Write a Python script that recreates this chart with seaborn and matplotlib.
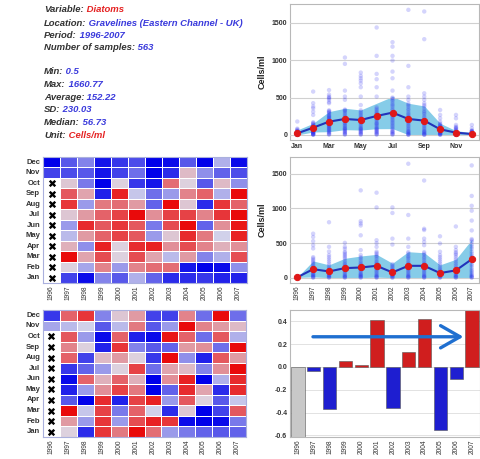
import numpy as np
import pandas as pd
import seaborn as sns
import matplotlib.pyplot as plt
from matplotlib.colors import LinearSegmentedColormap

# ---- data -------------------------------------------------------------
INFO_LABELS = ['Variable:', 'Location:', 'Period:', 'Number of samples:',
               'Min:', 'Max:', 'Average:', 'SD:', 'Median:', 'Unit:']
INFO_VALUES = ['Diatoms', 'Gravelines (Eastern Channel - UK)', '1996-2007', '563',
               '0.5', '1660.77', '152.22', '230.03', '56.73', 'Cells/ml']
INFO_COLORS = ['red', 'blue', 'blue', 'blue', 'blue', 'blue', 'blue', 'blue', 'blue', 'red']

MONTHS = ['Jan', 'Feb', 'Mar', 'Apr', 'May', 'Jun', 'Jul', 'Aug', 'Sep', 'Oct', 'Nov', 'Dec']
YEARS = list(range(1996, 2008))

# monthly samples (cells/ml)
month_pts = [
    [180, 85, 75, 65, 55, 50, 45, 40, 35, 30, 28, 25, 22, 20, 18, 15, 12, 10, 8, 6, 5, 4, 3, 2, 1, 1],
    [580, 425, 380, 357, 312, 268, 170, 160, 150, 140, 130, 120, 110, 100, 95, 90, 80, 70, 65, 60, 50,
     45, 40, 35, 30, 25, 20, 15, 10, 8, 5, 3],
    [600, 540, 513, 500, 490, 470, 440, 424, 330, 320, 310, 300, 290, 270, 260, 250, 240, 230, 220, 210,
     200, 190, 180, 170, 160, 150, 140, 130, 120, 110, 100, 90, 80, 70, 60, 50, 40, 30, 20, 10, 5],
    [1035, 950, 593, 513, 470, 340, 330, 320, 300, 280, 260, 240, 220, 200, 190, 180, 160, 150, 130, 120,
     100, 90, 80, 70, 60, 50, 40, 30, 20, 10, 5],
    [834, 790, 758, 727, 690, 638, 513, 400, 330, 310, 290, 270, 250, 230, 220, 200, 180, 160, 140, 120,
     100, 90, 80, 70, 60, 50, 40, 30, 20, 10, 5],
    [1436, 1057, 816, 745, 638, 513, 370, 350, 330, 310, 290, 280, 260, 240, 220, 200, 180, 160, 150, 140,
     120, 100, 90, 80, 70, 60, 50, 40, 30, 20, 10, 5],
    [1240, 1180, 1057, 995, 847, 758, 593, 500, 490, 470, 450, 420, 400, 380, 350, 330, 300, 280, 260, 240,
     220, 200, 180, 160, 140, 120, 100, 80, 60, 50, 40, 30, 20, 10, 5],
    [1672, 923, 638, 513, 470, 420, 400, 380, 350, 330, 300, 280, 260, 240, 220, 200, 180, 160, 140, 120,
     100, 80, 60, 50, 40, 30, 20, 10, 5, 2],
    [1650, 1280, 557, 513, 470, 424, 400, 380, 350, 320, 300, 280, 250, 230, 200, 180, 160, 140, 120, 100,
     80, 60, 50, 40, 30, 20, 10, 5, 2],
    [334, 268, 223, 178, 150, 140, 130, 120, 110, 100, 90, 80, 70, 60, 50, 40, 30, 25, 20, 15, 10, 5, 2],
    [268, 223, 134, 110, 100, 90, 80, 70, 60, 50, 40, 35, 30, 25, 20, 15, 10, 5, 2, 1],
    [134, 89, 60, 55, 50, 45, 40, 35, 30, 25, 20, 15, 10, 8, 5, 3, 2, 1],
]
month_mean = [22, 98, 178, 214, 200, 254, 299, 214, 192, 76, 31, 13]
month_lo = [0, 40, 44, 71, 66, 84, 85, 4, 0, 0, 4, 0]
month_hi = [67, 156, 312, 357, 334, 424, 513, 424, 388, 156, 58, 31]

# yearly samples
year_pts = [
    [15, 10, 8, 5, 3, 2],
    [637, 590, 530, 472, 425, 300, 280, 260, 240, 220, 200, 180, 160, 140, 120, 100, 80, 60, 50, 40, 30, 20, 10, 5],
    [802, 448, 380, 330, 300, 270, 240, 210, 180, 150, 130, 110, 90, 70, 50, 40, 30, 20, 10, 5],
    [505, 448, 420, 378, 360, 340, 320, 300, 280, 250, 220, 200, 180, 160, 140, 120, 100, 80, 60, 40, 30, 20, 10, 5],
    [1260, 817, 785, 755, 614, 401, 330, 300, 280, 250, 220, 200, 180, 160, 140, 120, 100, 80, 60, 50, 40, 30,
     20, 10, 5],
    [1227, 1015, 543, 500, 448, 380, 360, 340, 320, 300, 270, 240, 220, 200, 180, 160, 140, 120, 100, 80, 60,
     40, 30, 20, 10, 5],
    [1015, 935, 566, 481, 200, 180, 160, 140, 120, 100, 80, 60, 50, 40, 30, 20, 10, 5],
    [1643, 906, 566, 448, 370, 350, 320, 300, 280, 250, 220, 200, 180, 160, 140, 120, 100, 80, 60, 40, 30, 20,
     10, 5],
    [1402, 708, 690, 566, 520, 472, 370, 350, 330, 300, 280, 250, 220, 200, 180, 160, 140, 120, 100, 80, 60, 40,
     30, 20, 10, 5],
    [600, 496, 378, 330, 300, 270, 240, 210, 180, 150, 130, 110, 90, 70, 50, 40, 30, 20, 10, 5],
    [741, 448, 401, 370, 350, 330, 300, 270, 240, 210, 180, 150, 120, 100, 80, 60, 40, 30, 20, 10, 5],
    [1619, 1180, 1038, 968, 826, 684, 560, 543, 520, 480, 450, 420, 380, 350, 320, 300, 270, 240, 200, 180, 150,
     120, 100, 80, 60, 40, 30, 20, 10, 5],
]
year_mean = [10, 127, 94, 142, 151, 175, 80, 175, 175, 71, 109, 269]
year_lo = [8, 15, 5, 5, 5, 12, 5, 5, 5, 5, 5, 5]
year_hi = [12, 245, 189, 283, 316, 340, 212, 378, 363, 189, 269, 552]

# heatmap anomalies, rows Dec (top) -> Jan (bottom), columns 1996..2007
nan = np.nan
heat1 = [
    [-1.0, -0.6, -0.4, -0.9, -0.75, -0.65, -1.0, -0.95, -0.6, -1.0, -0.2, -0.95],
    [-0.7, -0.65, -0.6, -0.9, -0.7, -0.5, -1.0, -0.8, 0.15, -0.35, -0.55, -0.65],
    [nan, 0.1, -0.45, -1.0, 0.05, -0.75, -0.9, 0.5, 0.05, -0.6, 0.15, -0.35],
    [nan, 0.6, 0.25, -0.85, 0.85, -0.1, -0.5, -0.3, 0.4, 0.55, -0.2, 0.95],
    [nan, 0.75, -0.3, 0.45, 0.5, 0.3, -0.55, 0.95, 0.1, -0.8, 0.75, 0.55],
    [nan, 0.1, 0.3, 0.55, 0.7, 0.95, 0.35, 0.7, 0.7, 0.4, 0.75, 0.95],
    [nan, -0.3, 0.8, 0.6, 0.75, 0.6, -0.45, 0.65, 0.95, -0.55, 0.35, 0.9],
    [nan, -0.15, 0.3, 0.55, 0.7, 0.6, -0.3, 0.1, 0.8, 0.45, -0.05, 0.85],
    [nan, 0.2, -0.35, 0.85, 0.05, 0.8, 0.85, 0.35, 0.65, 0.4, 0.2, 0.35],
    [nan, 0.95, 0.25, 0.65, 0.05, 0.65, 0.25, -0.15, 0.3, -0.4, -0.2, 0.65],
    [nan, 0.05, -0.25, 0.4, -0.3, 0.4, 0.5, 0.5, -0.9, -1.0, -0.95, -0.35],
    [nan, -0.7, -0.95, -0.4, -0.6, -0.2, -0.55, -0.8, -0.8, -0.75, -0.85, -0.85],
]
heat2 = [
    [-0.75, 0.55, 0.75, -0.4, 0.1, 0.3, -0.7, -0.7, 0.4, -0.5, 0.95, -0.5],
    [-0.25, -0.15, -0.05, -0.6, -0.15, 0.45, -0.6, -0.3, 0.95, 0.4, 0.3, 0.15],
    [nan, 0.6, -0.3, -0.95, 0.55, -0.85, -0.95, 0.9, 0.55, -0.5, 0.6, -0.2],
    [nan, 0.4, 0.05, -0.85, 0.75, -0.4, -0.6, -0.55, 0.3, 0.35, -0.5, 0.95],
    [nan, 0.55, -0.7, 0.15, 0.3, 0.05, -0.75, 0.95, -0.35, -0.85, 0.6, 0.3],
    [nan, -0.75, -0.55, -0.3, 0.05, 0.7, -0.5, 0.25, 0.15, -0.4, 0.35, 0.95],
    [nan, -0.95, 0.55, 0.2, 0.55, 0.2, -1.0, 0.35, 0.85, -1.0, -0.2, 0.8],
    [nan, -0.85, -0.3, 0.35, 0.7, 0.45, -1.0, -0.55, 0.8, 0.25, -0.8, 0.8],
    [nan, -0.6, -1.0, 0.8, -0.85, 0.7, 0.85, -0.3, 0.6, 0.05, -0.6, -0.1],
    [nan, 0.95, -0.1, 0.7, -0.45, 0.55, -0.05, -0.8, 0.1, -1.0, -0.7, 0.6],
    [nan, 0.3, -0.3, 0.75, -0.3, 0.65, 0.85, 0.75, -0.95, -1.0, -0.95, -0.45],
    [nan, 0.05, -0.8, 0.75, 0.45, 0.95, 0.5, -0.3, -0.45, -0.55, -0.6, -0.55],
]

# yearly anomaly bars (1996 has no data -> grey)
bar_vals = [-0.62, -0.035, -0.37, 0.05, 0.02, 0.41, -0.36, 0.13, 0.42, -0.55, -0.105, 0.52]
bar_missing = [True] + [False] * 11

# ---- style ------------------------------------------------------------
sns.set_style('white')
plt.rcParams['font.family'] = ['Liberation Sans', 'DejaVu Sans']

W, H = 481, 459
fig = plt.figure(figsize=(W / 100, H / 100), dpi=100)


def px_axes(x0, y0, x1, y1):
    return fig.add_axes([x0 / W, 1 - y1 / H, (x1 - x0) / W, (y1 - y0) / H])


RED = '#e52222'
BLUE = '#3a3adc'
TICK_C = '#333333'

# ---- info text -------------------------------------------------------
ax0 = fig.add_axes([0, 0, 1, 1])
ax0.set_axis_off()
line_y = [10, 23, 35, 48, 72, 85, 98, 110, 123, 136]
for lab, val, col, y in zip(INFO_LABELS, INFO_VALUES, INFO_COLORS, line_y):
    t = ax0.text(44 / W, 1 - y / H, lab, transform=ax0.transAxes, fontsize=6.8,
                 fontweight='bold', fontstyle='italic', color='#333333', va='center')
    ax0.annotate(' ' + val, xy=(1, 0.5), xycoords=t, va='center', ha='left', fontsize=6.8,
                 fontweight='bold', fontstyle='italic', color=RED if col == 'red' else BLUE)


# ---- scatter panels ---------------------------------------------------
def scatter_panel(ax, xs, pts, mean, lo, hi, ylim):
    rows = [(x, v) for x, vals in zip(xs, pts) for v in vals]
    df = pd.DataFrame(rows, columns=['x', 'v'])
    ax.yaxis.grid(True, color='#d0d0d0', lw=0.8)
    ax.set_axisbelow(False)
    ax.fill_between(xs, lo, hi, color='#86cce8', lw=0, zorder=1)
    sns.scatterplot(data=df, x='x', y='v', ax=ax, color='#2a2af0', alpha=0.2, s=10,
                    edgecolor='none', zorder=3, legend=False)
    sns.lineplot(x=xs, y=mean, ax=ax, color='#2233bb', lw=1.5, marker='o', markersize=4.5,
                 markerfacecolor='#e01818', markeredgecolor='#e01818', zorder=4)
    ax.set_ylim(*ylim)
    ax.set_yticks([0, 500, 1000, 1500])
    ax.set_ylabel('Cells/ml', fontsize=6.5, fontweight='bold', color='#222222', labelpad=4)
    ax.set_xlabel('')
    for s in ax.spines.values():
        s.set_color('#b8b8b8')
        s.set_linewidth(0.8)
    ax.tick_params(length=0, labelsize=5, pad=2, colors=TICK_C)
    for lb in ax.get_yticklabels():
        lb.set_fontweight('bold')


ax1 = px_axes(290, 4, 479, 140)
mx = list(range(1, 13))
scatter_panel(ax1, mx, month_pts, month_mean, month_lo, month_hi, (-67, 1750))
ax1.set_xlim(0.54, 12.45)
ax1.set_xticks(mx[::2])
ax1.set_xticklabels(MONTHS[::2], fontweight='bold')

ax2 = px_axes(290, 157, 479, 283)
scatter_panel(ax2, YEARS, year_pts, year_mean, year_lo, year_hi, (-72, 1740))
ax2.set_xlim(1995.54, 2007.46)
ax2.set_xticks(YEARS)
ax2.set_xticklabels([str(y) for y in YEARS], rotation=90, fontsize=4.8)

# ---- heatmaps ---------------------------------------------------------
cmap = LinearSegmentedColormap.from_list('bwr_grey', ['#0000ea', '#dcdcea', '#ea0000'])
rows_lab = MONTHS[::-1]


def heat_panel(ax, data):
    df = pd.DataFrame(data, index=rows_lab, columns=YEARS)
    sns.heatmap(df, ax=ax, cmap=cmap, vmin=-1, vmax=1, cbar=False, linewidths=0.6,
                linecolor='white', xticklabels=True, yticklabels=True)
    r, c = np.where(df.isna().values)
    ax.scatter(c + 0.5, r + 0.5, marker='x', s=16, linewidths=1.7, color='black', zorder=5)
    for s in ax.spines.values():
        s.set_visible(True)
        s.set_color('#aab0dd')
        s.set_linewidth(0.8)
    ax.tick_params(length=0, pad=2, colors=TICK_C)
    ax.set_yticklabels(rows_lab, rotation=0, fontsize=5.5, fontweight='bold')
    ax.set_xticklabels([str(y) for y in YEARS], rotation=90, fontsize=4.8)
    ax.set_xlabel('')
    ax.set_ylabel('')


ax3 = px_axes(43, 157, 247, 283)
heat_panel(ax3, heat1)
ax4 = px_axes(43, 310, 246, 437)
heat_panel(ax4, heat2)

# ---- bar chart --------------------------------------------------------
ax5 = px_axes(290, 310, 480, 437)
bar_df = pd.DataFrame({'year': [str(y) for y in YEARS], 'val': bar_vals})
bar_cols = ['#c8c8c8' if m else ('#ee0000' if v > 0 else '#0000ee')
            for v, m in zip(bar_vals, bar_missing)]
ax5.yaxis.grid(True, color='#e2e2e2', lw=0.7)
ax5.set_axisbelow(True)
sns.barplot(data=bar_df, x='year', y='val', hue='year', palette=bar_cols, legend=False,
            width=0.85, ax=ax5, edgecolor='#555555', linewidth=0.4)
ax5.set_ylim(-0.615, 0.5)
ax5.set_xlim(-0.5, 11.5)
ax5.set_yticks([-0.6, -0.4, -0.2, 0.0, 0.2, 0.4])
ax5.set_yticklabels(['-0.6', '-0.4', '-0.2', '0.0', '0.2', '0.4'], fontweight='bold')
ax5.set_xticks(range(12))
ax5.set_xticklabels([str(y) for y in YEARS], rotation=90, fontsize=4.8)
ax5.set_xlabel('')
ax5.set_ylabel('')
ax5.tick_params(length=0, labelsize=5, pad=2, colors=TICK_C)
ax5.tick_params(axis='x', labelsize=4.8)
for s in ax5.spines.values():
    s.set_color('#b8b8b8')
    s.set_linewidth(0.8)

# trend arrow
ARROW_X0, ARROW_X1, ARROW_Y = 0.95, 10.45, 0.265
ax5.annotate('', xy=(ARROW_X1, ARROW_Y), xytext=(ARROW_X0, ARROW_Y),
             arrowprops=dict(arrowstyle='->, head_length=0.7, head_width=0.4',
                             color='#1f6fd0', lw=2.4, mutation_scale=20, shrinkA=0, shrinkB=0))

fig.savefig('out.png', dpi=100)
